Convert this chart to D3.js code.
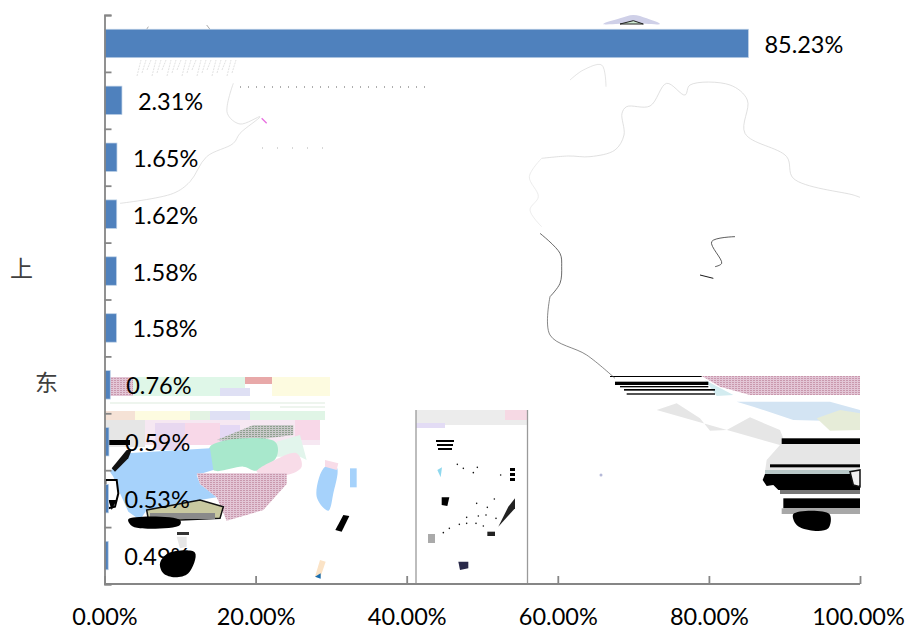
<!DOCTYPE html>
<html><head><meta charset="utf-8">
<script src="https://cdn.jsdelivr.net/npm/d3@7/dist/d3.min.js"></script>
<style>html,body{margin:0;padding:0;background:#fff}svg{display:block}
text{font-family:Lato,"Noto Sans",sans-serif;fill:#000}</style></head><body>
<svg id="c" width="910" height="630"></svg>
<script>
const categories=["a","b","c","d","上","f","东","h","i","j"];
const visibleCategories=["上","东"];
const values=[85.23,2.31,1.65,1.62,1.58,1.58,0.76,0.59,0.53,0.49];
const xTicks=[0,20,40,60,80,100];

const svg=d3.select("#c");
const x=d3.scaleLinear().domain([0,100]).range([104.5,860]);
const y=d3.scaleBand().domain(categories).range([15,584]).paddingInner(0.5).paddingOuter(0.25);
const yEdge=d3.scaleLinear().domain([0,10]).range([15,584]);

/* Background residue: non-data scraps of a map showing through the picture */
const bg=svg.append("g").attr("class","background-residue");
const defs=svg.append("defs");
defs.append("pattern").attr("id","hm").attr("width",3).attr("height",2).attr("patternUnits","userSpaceOnUse")
  .call(p=>{p.append("rect").attr("width",3).attr("height",2).attr("fill","#e3c6d6");p.append("rect").attr("width",2).attr("height",1).attr("fill","#c998ad");});
defs.append("pattern").attr("id","hg").attr("width",3).attr("height",2).attr("patternUnits","userSpaceOnUse")
  .call(p=>{p.append("rect").attr("width",3).attr("height",2).attr("fill","#c9c9c9");p.append("rect").attr("width",2).attr("height",1).attr("fill","#8f9f8f");});
const Z2=[0,360],Z3=[400,360],Z4=[500,0],Z1=[0,0];
const tr=(o,pts)=>pts.map(p=>[o[0]+p[0]/3,o[1]+p[1]/3]);
const poly=(o,pts,fill,stroke,sw)=>bg.append("path")
  .attr("d",d3.line().curve(d3.curveLinearClosed)(tr(o,pts)))
  .attr("fill",fill||"none").attr("stroke",stroke||"none").attr("stroke-width",sw||0);
const blob=(o,pts,fill,stroke,sw)=>bg.append("path")
  .attr("d",d3.line().curve(d3.curveCatmullRomClosed.alpha(0.5))(tr(o,pts)))
  .attr("fill",fill||"none").attr("stroke",stroke||"none").attr("stroke-width",sw||0);
const trace=(o,pts,stroke,sw)=>bg.append("path")
  .attr("d",d3.line().curve(d3.curveCatmullRom.alpha(0.5))(tr(o,pts)))
  .attr("fill","none").attr("stroke",stroke).attr("stroke-width",sw);
const rect=(x0,y0,x1,y1,f)=>bg.append("rect").attr("x",x0).attr("y",y0).attr("width",x1-x0).attr("height",y1-y0).attr("fill",f);

// left colored bands
rect(110,377,133,396,"url(#hm)");rect(133,377,245,396,"#dff7e8");rect(245,377,272,384,"#e8a9a9");
rect(272,377,330,396,"#fdfbe0");rect(220,388,250,396,"#dfe0f4");
rect(105,411,320,445,"#f6e8f2");
[[104,411,135,"#f5e2d6"],[135,411,190,"#fdfbe0"],[190,411,210,"#e3f3e3"],[210,411,250,"#dfe0f4"],[250,411,325,"#e0f5e6"]]
  .forEach(d=>rect(d[0],d[1],d[2],420,d[3]));
rect(110,402,325,404,"#eef5ee");rect(280,406,325,408,"#eef5ee");
rect(105,420,145,447,"#e6e6e6");rect(155,423,185,450,"#e8d8f0");rect(185,423,220,445,"#f8d8e8");
rect(220,425,240,442,"#e4d8f4");rect(295,420,320,440,"#f8d8e8");
poly(Z2,[[650,240],[760,195],[880,195],[880,225],[720,245]],"url(#hg)");
poly(Z2,[[830,245],[900,225],[920,300],[900,290],[830,290]],"#e2f5ec");
blob(Z2,[[630,260],[825,245],[830,290],[770,332],[730,320],[640,330]],"#a8e8cc");
blob(Z2,[[825,300],[890,280],[905,320],[860,345],[770,335]],"#f8dce8");
poly(Z2,[[330,335],[380,280],[630,265],[640,330],[590,345],[600,372],[650,412],[600,420],[440,450],[420,480],[385,455],[360,400],[340,350]],"#a6d2fb");
poly(Z2,[[590,340],[860,340],[860,372],[790,450],[680,482],[650,412],[600,372]],"url(#hm)");
poly(Z2,[[440,450],[600,420],[670,440],[660,475],[540,480],[445,478]],"#c9c9a0","#111",1.5);
rect(150,513,215,519,"#8a8a8a");
blob(Z2,[[385,478],[540,480],[540,495],[420,505],[392,495]],"#000");
blob(Z2,[[480,610],[505,580],[585,578],[565,640],[525,652],[490,640]],"#000");
poly(Z2,[[530,530],[560,530],[560,560],[540,565]],"#e6e6e6");
rect(177,532,189,535,"#333");
rect(108,440,130,445,"#000");
poly(Z2,[[335,325],[380,270],[395,270],[385,295],[345,335]],"#111");
poly(Z2,[[316,360],[350,360],[355,400],[345,440],[325,445],[316,400]],"#fff","#000",2);
poly(Z2,[[325,420],[350,420],[335,450]],"#000");
blob(Z2,[[975,320],[1010,322],[1000,400],[985,452],[950,410]],"#a6d2fb");
poly(Z2,[[975,300],[1015,310],[1010,330],[975,320]],"#f8dce8");
poly(Z2,[[1050,325],[1070,325],[1070,382],[1050,382]],"#a6d2fb");
poly(Z2,[[1030,465],[1048,468],[1025,515],[1006,510]],"#000");
poly(Z2,[[960,600],[977,605],[960,655],[945,650]],"#fbe3c6");
poly(Z2,[[945,650],[962,640],[962,656]],"#1a6fb0");
// inset frame
rect(416,410,527,425,"#ececec");rect(505,410,527,420,"#f6d9e4");rect(416,423,445,428,"#e3dcf5");
bg.append("path").attr("d","M416 410V584M527.5 410V584").attr("stroke","#9a9a9a").attr("stroke-width",1.3).attr("fill","none");
[[436,440,454,442],[437,444,453,446],[438,448,452,450],[510,468,515,471],[510,473,515,476],[510,478,515,481]]
  .forEach(d=>rect(d[0],d[1],d[2],d[3],"#000"));
poly(Z3,[[125,412],[148,412],[142,438],[125,435]],"#000");
poly(Z3,[[325,440],[345,415],[345,445],[295,500]],"#222");
poly(Z3,[[175,605],[205,605],[205,625],[180,630]],"#2a2a4a");
poly(Z3,[[262,515],[285,515],[285,528],[262,528]],"#222");
rect(428,534,435,543,"#aaa");
poly(Z3,[[112,330],[126,322],[122,352]],"#8fd8ee");
[[230,430],[262,442],[200,472],[235,468],[258,465],[288,475],[178,493],[200,490],[228,490],[250,498],[130,518],[148,505],[283,417],[172,313],[190,325],[232,322],[220,338],[302,345]]
 .forEach(p=>bg.append("circle").attr("cx",400+p[0]/3).attr("cy",360+p[1]/3).attr("r",0.8).attr("fill","#111"));
// right scraps
poly(Z3,[[1010,125],[1290,125],[1380,150],[1380,185],[1180,180],[1060,140]],"#d3e4f3");
poly(Z3,[[905,48],[1380,48],[1380,105],[1050,105],[960,80]],"url(#hm)");
poly(Z3,[[915,60],[1000,105],[950,108]],"#d3ecf0");
[[630,905,48,51],[645,925,65,75],[660,925,78,82],[672,945,87,92],[680,945,100,104]].forEach(d=>rect(400+d[0]/3,360+d[2]/3,400+d[1]/3,360+d[3]/3,"#000"));
poly(Z3,[[770,150],[830,130],[900,175],[930,212],[980,210],[1050,172],[1140,210],[1150,235],[1380,235],[1380,335],[1095,335],[1100,300],[1140,255]],"#e6e6e6");
poly(Z3,[[1250,175],[1320,150],[1380,160],[1380,210],[1290,212]],"#e6ecd8");
[[1145,235,252],[1110,313,322],[1150,415,445]].forEach(d=>rect(400+d[0]/3,360+d[1]/3,860,360+d[2]/3,"#000"));
rect(400+1095/3,360+330/3,860,360+342/3,"#b8c8c8");
poly(Z3,[[1095,342],[1380,342],[1380,390],[1135,390],[1120,375],[1100,378],[1088,360]],"#000");
rect(400+1140/3,360+390/3,860,360+402/3,"#777");
rect(400+1145/3,360+445/3,860,360+462/3,"#a8a8a8");
blob(Z3,[[1180,462],[1288,462],[1285,505],[1240,512],[1190,495]],"#000");
poly(Z3,[[1350,335],[1380,330],[1380,380],[1360,375]],"#f0f0f0","#111",1.5);
bg.append("circle").attr("cx",601).attr("cy",475).attr("r",1.5).attr("fill","#b5b9d8");
// top scraps & outlines
blob(Z4,[[310,72],[360,55],[400,45],[440,55],[480,72],[400,70]],"#cfd0e8");
poly(Z4,[[360,72],[400,62],[430,72]],"#cde8d0","#222",1);
const lightLine="#d2d2d2";
trace(Z4,[[125,475],[205,468],[270,470],[345,450],[372,405],[366,340],[380,320],[450,318],[500,250],[555,285],[570,255],[690,255],[742,300],[735,400],[860,470],[880,535],[1060,585],[1080,592]],lightLine,0.7);
trace(Z4,[[125,475],[88,530],[115,590],[90,630],[125,680]],"#e4e4e4",0.7);
trace(Z4,[[120,700],[180,760],[185,800],[180,850],[150,890]],"#444",0.8);
trace(Z4,[[150,890],[150,1005],[260,1065],[345,1135]],"#555",0.7);
trace(Z4,[[705,710],[635,725],[665,790],[645,800]],"#333",0.8);
trace(Z4,[[600,825],[640,835]],"#000",0.9);
trace(Z4,[[210,240],[250,210],[305,195],[318,260]],lightLine,0.6);
trace(Z1,[[700,250],[682,340],[720,372],[780,350],[720,400],[700,430],[620,470],[570,545],[520,580],[360,610]],"#d6d6d6",0.7);
trace(Z1,[[785,355],[800,370]],"#e86fe0",1.3);
trace(Z1,[[445,80],[440,88]],"#888",0.7);trace(Z1,[[620,75],[630,88]],"#888",0.7);
bg.selectAll(".h").data(d3.range(137,235,5)).join("path")
  .attr("d",(d,i)=>`M${d} ${76-(i%3)*3}L${d+4} 60`).attr("stroke","#cdcdcd").attr("stroke-width",.6).attr("stroke-dasharray","2 1");
bg.append("path").attr("d","M240 87H428").attr("stroke","#333").attr("stroke-width",.8).attr("stroke-dasharray","1 7");
bg.append("path").attr("d","M262 148H334").attr("stroke","#999").attr("stroke-width",.8).attr("stroke-dasharray","1 14");

/* Chart */
const axisColor="#868686";
svg.append("g").selectAll("rect").data(values).join("rect")
  .attr("x",x(0)).attr("y",(d,i)=>y(categories[i])).attr("width",d=>x(d)-x(0)).attr("height",y.bandwidth())
  .attr("fill","#4f81bd").attr("stroke","#bcd0e6").attr("stroke-width",.7);

const gx=svg.append("g").attr("transform","translate(0,584)")
  .call(d3.axisBottom(x).tickValues(xTicks).tickSize(-8).tickFormat(d=>d3.format(".2f")(d)+"%"));
gx.selectAll("path,line").attr("stroke",axisColor).attr("stroke-width",1.8);
gx.select(".domain").attr("d","M104 0H860");
gx.selectAll("text").attr("y",0).attr("dy",null).attr("transform","translate(0,41)").style("font-size","23.5px").style("font-family","Lato").attr("fill","#000");
gx.selectAll(".tick").filter(d=>d===100).select("text").attr("transform","translate(-2,41)");

const gy=svg.append("g").attr("transform","translate(104.5,0)")
  .call(d3.axisRight(yEdge).tickValues(d3.range(0,11)).tickSize(7).tickFormat(""));
gy.selectAll("path,line").attr("stroke",axisColor).attr("stroke-width",1.8);

svg.append("g").selectAll("text").data(values).join("text")
  .attr("x",d=>x(d)+16).attr("y",(d,i)=>y(categories[i])+y.bandwidth()/2+9.5)
  .style("font-size","23.5px").text(d=>d3.format(".2f")(d)+"%");

svg.append("g").selectAll("text").data(categories.filter(c=>visibleCategories.includes(c))).join("text")
  .attr("x",c=>c==="上"?10:35).attr("y",c=>y(c)+y.bandwidth()/2+6)
  .style("font-family","'Noto Sans CJK SC'").style("font-size","23px").style("fill","#404040")
  .text(c=>c);
</script></body></html>
